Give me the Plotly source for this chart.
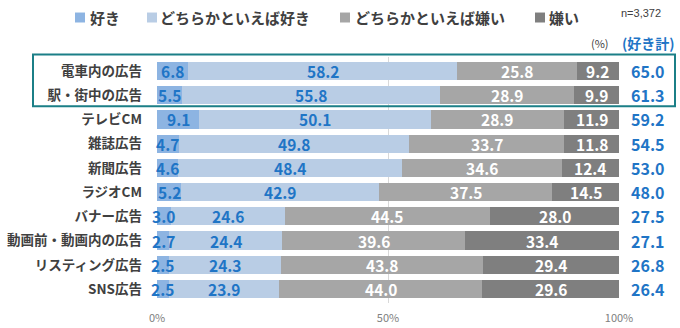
import plotly.graph_objects as go

categories = ["電車内の広告", "駅・街中の広告", "テレビCM", "雑誌広告", "新聞広告",
              "ラジオCM", "バナー広告", "動画前・動画内の広告", "リスティング広告", "SNS広告"]
series_names = ["好き", "どちらかといえば好き", "どちらかといえば嫌い", "嫌い"]
like = [6.8, 5.5, 9.1, 4.7, 4.6, 5.2, 3.0, 2.7, 2.5, 2.5]
rather_like = [58.2, 55.8, 50.1, 49.8, 48.4, 42.9, 24.6, 24.4, 24.3, 23.9]
rather_dislike = [25.8, 28.9, 28.9, 33.7, 34.6, 37.5, 44.5, 39.6, 43.8, 44.0]
dislike = [9.2, 9.9, 11.9, 11.8, 12.4, 14.5, 28.0, 33.4, 29.4, 29.6]
like_total = [65.0, 61.3, 59.2, 54.5, 53.0, 48.0, 27.5, 27.1, 26.8, 26.4]
x_ticks = [0, 50, 100]
x_tick_labels = ["0%", "50%", "100%"]

colors = ["#8DB4E2", "#B9CDE5", "#A6A6A6", "#7F7F7F"]
text_colors = ["#1F75C6", "#1F75C6", "#FFFFFF", "#FFFFFF"]
BLUE = "#1F75C6"
FONT = "Noto Sans CJK JP"

W, H = 680, 328
L, R = 157, 619
T, B = 56.6, 303.3
pw, ph = R - L, B - T


def px(x):
    return (x - L) / pw


def py(y):
    return (B - y) / ph


fig = go.Figure()
all_series = [like, rather_like, rather_dislike, dislike]
for name, vals, c in zip(series_names, all_series, colors):
    fig.add_trace(go.Bar(
        y=categories, x=vals, name=name, orientation="h",
        marker=dict(color=c, line=dict(width=0)),
        showlegend=False, hoverinfo="skip",
    ))

# value labels at segment centres
cum = [0.0] * len(categories)
for vals, tc in zip(all_series, text_colors):
    for i, (cat, v) in enumerate(zip(categories, vals)):
        fig.add_annotation(x=cum[i] + v / 2, y=cat, xref="x", yref="y", text=f"{v:.1f}",
                           showarrow=False, xanchor="center", yanchor="middle",
                           font=dict(family=FONT, size=15.5, color=tc, weight="bold"))
        cum[i] += v

# totals
for cat, t in zip(categories, like_total):
    fig.add_annotation(x=px(648), xref="paper", y=cat, yref="y", text=f"{t:.1f}",
                       showarrow=False, xanchor="center",
                       font=dict(family=FONT, size=16, color=BLUE, weight="bold"))

# legend (manual)
legend_pos = [(75, 88), (147, 158), (340, 353), (535, 547)]
for (sx, tx), name, c in zip(legend_pos, series_names, colors):
    fig.add_shape(type="rect", xref="paper", yref="paper",
                  x0=px(sx), x1=px(sx + 10), y0=py(22), y1=py(12),
                  fillcolor=c, line=dict(width=0))
    fig.add_annotation(x=px(tx), y=py(17), xref="paper", yref="paper", text=name,
                       showarrow=False, xanchor="left", yanchor="middle",
                       font=dict(family=FONT, size=15, color="#404040", weight="bold"))

fig.add_annotation(x=px(663), y=py(12), xref="paper", yref="paper", text="n=3,372",
                   showarrow=False, xanchor="right", yanchor="middle",
                   font=dict(family="Liberation Sans", size=11, color="#404040"))
fig.add_annotation(x=px(600), y=py(43), xref="paper", yref="paper", text="(%)",
                   showarrow=False, xanchor="center", yanchor="middle",
                   font=dict(family=FONT, size=11, color="#404040"))
fig.add_annotation(x=px(648), y=py(43), xref="paper", yref="paper", text="(好き計)",
                   showarrow=False, xanchor="center", yanchor="middle",
                   font=dict(family=FONT, size=14, color=BLUE, weight="bold"))

# highlight box
fig.add_shape(type="rect", xref="paper", yref="paper",
              x0=px(33), x1=px(675), y0=py(106), y1=py(54),
              line=dict(color="#1B7F87", width=2), fillcolor="rgba(0,0,0,0)", layer="above")

fig.update_layout(
    width=W, height=H, barmode="stack", bargap=0.25,
    margin=dict(l=L, r=W - R, t=T, b=H - B, autoexpand=False),
    paper_bgcolor="white", plot_bgcolor="white",
    font=dict(family=FONT),
)
fig.update_xaxes(range=[0, 100], tickvals=x_ticks, ticktext=x_tick_labels,
                 showgrid=True, gridcolor="#D9D9D9", gridwidth=1, zeroline=False,
                 tickfont=dict(family=FONT, size=11, color="#808080"),
                 ticklabelstandoff=7, automargin=False, fixedrange=True)
fig.update_yaxes(autorange="reversed", showgrid=False, ticks="",
                 tickfont=dict(family=FONT, size=13.5, color="#404040", weight="bold"),
                 ticklabelstandoff=14, automargin=False, fixedrange=True)

fig.write_html("out.html")
